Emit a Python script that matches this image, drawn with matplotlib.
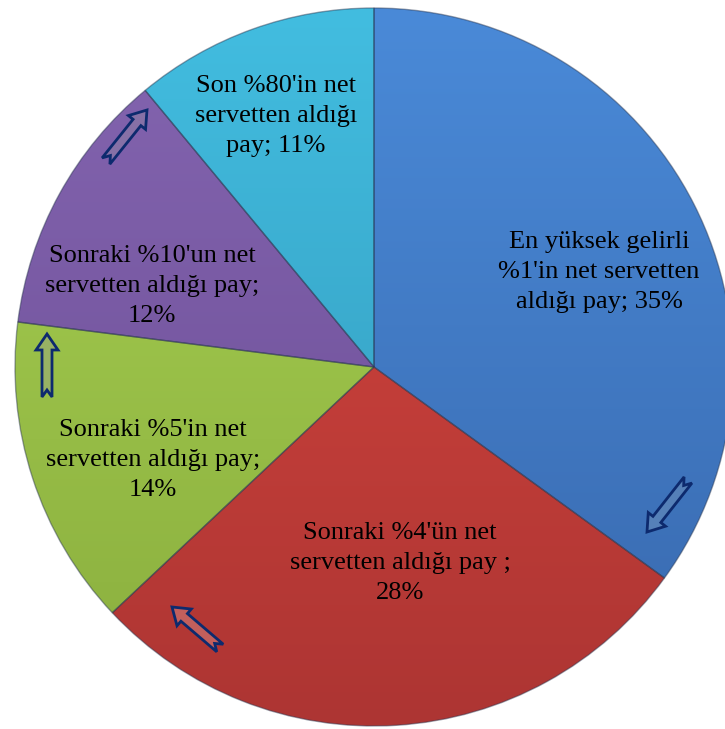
import numpy as np
import matplotlib
matplotlib.use("Agg")
import matplotlib.pyplot as plt
from matplotlib.colors import LinearSegmentedColormap
from matplotlib.patches import Polygon

# Veriler
labels = [
    "En yüksek gelirli\n%1'in net servetten\naldığı pay; 35%",
    "Sonraki %4'ün net\nservetten aldığı pay ;\n28%",
    "Sonraki %5'in net\nservetten aldığı pay;\n14%",
    "Sonraki %10'un net\nservetten aldığı pay;\n12%",
    "Son %80'in net\nservetten aldığı\npay; 11%",
]
values = [35, 28, 14, 12, 11]
light_colors = ["#4a8ad8", "#d9473f", "#a8d152", "#8465b0", "#42bde0"]
dark_colors = ["#3868ad", "#ad3533", "#8aae3e", "#6a4c94", "#3296b8"]

W, H = 725, 729
cx, cy, R = 374, H - 367, 359

fig = plt.figure(figsize=(W / 100, H / 100), dpi=100)
ax = fig.add_axes([0, 0, 1, 1])

wedges, _ = ax.pie(values, startangle=90, counterclock=False, center=(cx, cy),
                   radius=R, frame=True,
                   wedgeprops=dict(linewidth=1.0, edgecolor=(0.15, 0.2, 0.3, 0.45)))

# Dilimlere dikey renk geçişi
grad = np.linspace(0, 1, 256).reshape(-1, 1)
for w, c1, c2 in zip(wedges, light_colors, dark_colors):
    w.set_facecolor("none")
    cmap = LinearSegmentedColormap.from_list("g", [c2, c1])
    im = ax.imshow(grad, cmap=cmap, extent=(cx - R, cx + R, cy - R, cy + R),
                   origin="lower", aspect="auto", zorder=0.5)
    im.set_clip_path(w)
    w.set_zorder(1)
ax.set_xlim(0, W)
ax.set_ylim(0, H)
ax.axis("off")

# Etiketler
label_pos = [(599, 272), (400, 563), (153, 460), (152, 286), (276, 116)]
for txt, (x, y) in zip(labels, label_pos):
    ax.text(x, H - y, txt, ha="center", va="center", fontsize=19,
            family="Liberation Serif", linespacing=1.45, zorder=5)


# Oklar
def notched_arrow(x0, y0, x1, y1, sw=10, hw=22, hl=16, notch=7):
    p0 = np.array([x0, H - y0], float)
    p1 = np.array([x1, H - y1], float)
    d = p1 - p0
    L = np.hypot(*d)
    u = d / L
    n = np.array([-u[1], u[0]])
    local = [(0, sw / 2), (L - hl, sw / 2), (L - hl, hw / 2), (L, 0),
             (L - hl, -hw / 2), (L - hl, -sw / 2), (0, -sw / 2), (notch, 0)]
    return [p0 + a * u + b * n for a, b in local]


arrows = [((688, 480), (647, 532), "#5580b8"),
          ((220, 648), (172, 607), "#c25f5c"),
          ((47, 397), (47, 334), "#98b264"),
          ((106, 161), (147, 110), "#8670a6")]
for (s, e, fc) in arrows:
    pts = notched_arrow(s[0], s[1], e[0], e[1])
    ax.add_patch(Polygon(pts, closed=True, facecolor=fc, edgecolor="#0d2a6e",
                         linewidth=2, zorder=4))

fig.savefig("out.png", dpi=100)
